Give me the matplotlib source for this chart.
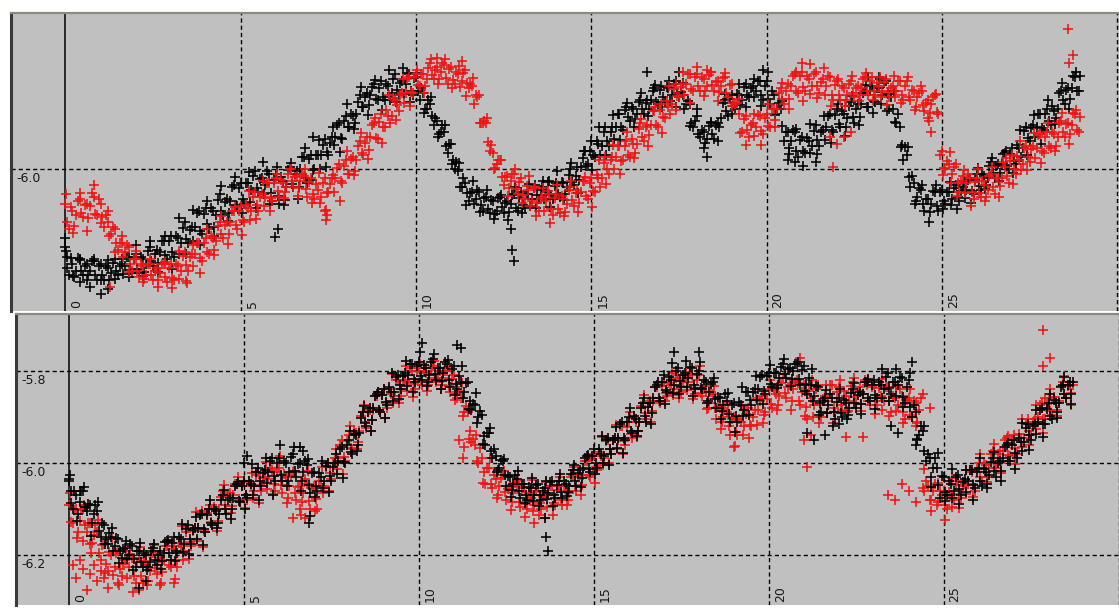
import numpy as np
import matplotlib.pyplot as plt

plt.rcParams['font.family'] = 'DejaVu Sans'

# sampling grids (days): two interleaved passes every 0.1 day, a sparser one every 0.2 day
days = np.round(np.arange(0, 29.0, 0.1), 1)
days_b = np.round(days + 0.05, 2)
days_c = np.round(np.arange(0.025, 28.9, 0.2), 3)

# ---- top panel ----
top_black = [
    -6.17, -6.23, -6.205, -6.22, -6.195, -6.23, -6.205, -6.22, -6.20, -6.24,
    -6.205, -6.24, -6.215, -6.225, -6.195, -6.23, -6.205, -6.21, -6.19, -6.225,
    -6.185, -6.225, -6.195, -6.205, -6.17, -6.21, -6.175, -6.18, -6.155, -6.195,
    -6.145, -6.19, -6.15, -6.16, -6.115, -6.16, -6.125, -6.125, -6.09, -6.14,
    -6.085, -6.13, -6.09, -6.10, -6.055, -6.10, -6.065, -6.07, -6.035, -6.08,
    -6.03, -6.075, -6.03, -6.045, -6.005, -6.05, -6.02, -6.035, -6.01, -6.07,
    -6.01, -6.075, -6.025, -6.04, -5.995, -6.04, -6.005, -6.00, -5.975, -6.03,
    -5.97, -6.0, -5.97, -5.97, -5.935, -5.97, -5.93, -5.93, -5.90, -5.935,
    -5.885, -5.91, -5.885, -5.88, -5.84, -5.865, -5.835, -5.84, -5.815, -5.85,
    -5.81, -5.85, -5.82, -5.835, -5.795, -5.84, -5.81, -5.815, -5.795, -5.84,
    -5.80, -5.85, -5.835, -5.87, -5.86, -5.905, -5.895, -5.92, -5.92, -5.965,
    -5.945, -6.0, -6.005, -6.04, -6.03, -6.07, -6.05, -6.065, -6.05, -6.09,
    -6.06, -6.095, -6.07, -6.09, -6.06, -6.095, -6.07, -6.075, -6.055, -6.09,
    -6.05, -6.085, -6.055, -6.065, -6.035, -6.065, -6.04, -6.05, -6.025, -6.065,
    -6.03, -6.06, -6.03, -6.04, -6.0, -6.035, -5.995, -5.995, -5.96, -5.99,
    -5.94, -5.975, -5.945, -5.95, -5.91, -5.95, -5.91, -5.91, -5.88, -5.915,
    -5.865, -5.895, -5.87, -5.88, -5.85, -5.88, -5.85, -5.85, -5.825, -5.86,
    -5.82, -5.855, -5.825, -5.84, -5.81, -5.845, -5.84, -5.86, -5.86, -5.91,
    -5.885, -5.93, -5.92, -5.935, -5.9, -5.935, -5.90, -5.89, -5.85, -5.885,
    -5.84, -5.87, -5.84, -5.85, -5.815, -5.845, -5.82, -5.83, -5.81, -5.85,
    -5.81, -5.86, -5.84, -5.87, -5.87, -5.94, -5.92, -5.94, -5.92, -5.975,
    -5.93, -5.965, -5.94, -5.95, -5.905, -5.95, -5.915, -5.91, -5.88, -5.92,
    -5.87, -5.91, -5.88, -5.89, -5.855, -5.90, -5.86, -5.86, -5.83, -5.865,
    -5.82, -5.855, -5.825, -5.84, -5.81, -5.87, -5.87, -5.90, -5.91, -5.98,
    -5.97, -6.04, -6.03, -6.06, -6.045, -6.09, -6.065, -6.075, -6.05, -6.09,
    -6.045, -6.075, -6.05, -6.065, -6.035, -6.07, -6.04, -6.045, -6.02, -6.055,
    -6.01, -6.045, -6.015, -6.02, -5.985, -6.02, -5.99, -5.99, -5.965, -6.0,
    -5.955, -5.99, -5.955, -5.955, -5.91, -5.94, -5.905, -5.91, -5.88, -5.915,
    -5.87, -5.905, -5.875, -5.87, -5.83, -5.86, -5.825, -5.825, -5.80, -5.83,
]
top_black_b = [
    -6.215, -6.193, -6.235, -6.192, -6.22, -6.21, -6.23, -6.20, -6.23, -6.21,
    -6.23, -6.21, -6.24, -6.203, -6.221, -6.21, -6.228, -6.19, -6.218, -6.195,
    -6.217, -6.19, -6.224, -6.177, -6.199, -6.184, -6.204, -6.155, -6.187, -6.157,
    -6.18, -6.145, -6.185, -6.128, -6.152, -6.132, -6.155, -6.096, -6.134, -6.097,
    -6.12, -6.085, -6.125, -6.068, -6.092, -6.072, -6.096, -6.038, -6.077, -6.041,
    -6.065, -6.031, -6.072, -6.016, -6.042, -6.022, -6.055, -6.004, -6.051, -6.023,
    -6.058, -6.018, -6.067, -6.002, -6.033, -6.011, -6.04, -5.973, -6.02, -5.978,
    -6.003, -5.97, -5.999, -5.947, -5.964, -5.944, -5.949, -5.905, -5.933, -5.897,
    -5.91, -5.88, -5.90, -5.855, -5.865, -5.845, -5.861, -5.822, -5.848, -5.824,
    -5.843, -5.816, -5.851, -5.805, -5.828, -5.814, -5.838, -5.793, -5.83, -5.803,
    -5.83, -5.825, -5.87, -5.85, -5.885, -5.89, -5.925, -5.905, -5.95, -5.945,
    -5.98, -5.985, -6.04, -6.019, -6.053, -6.052, -6.076, -6.045, -6.079, -6.063,
    -6.086, -6.067, -6.097, -6.063, -6.083, -6.074, -6.093, -6.057, -6.084, -6.062,
    -6.078, -6.054, -6.08, -6.041, -6.057, -6.045, -6.064, -6.028, -6.057, -6.036,
    -6.054, -6.029, -6.054, -6.014, -6.029, -6.015, -6.023, -5.976, -5.994, -5.962,
    -5.97, -5.939, -5.97, -5.92, -5.939, -5.919, -5.934, -5.88, -5.908, -5.872,
    -5.888, -5.865, -5.892, -5.854, -5.871, -5.857, -5.871, -5.83, -5.854, -5.828,
    -5.844, -5.823, -5.852, -5.816, -5.835, -5.833, -5.87, -5.852, -5.90, -5.895,
    -5.925, -5.915, -5.944, -5.907, -5.925, -5.905, -5.91, -5.857, -5.875, -5.849,
    -5.863, -5.837, -5.862, -5.823, -5.839, -5.825, -5.845, -5.81, -5.84, -5.82,
    -5.848, -5.832, -5.88, -5.856, -5.906, -5.919, -5.954, -5.916, -5.96, -5.937,
    -5.961, -5.932, -5.965, -5.917, -5.938, -5.92, -5.937, -5.885, -5.915, -5.882,
    -5.902, -5.875, -5.91, -5.864, -5.887, -5.87, -5.887, -5.835, -5.865, -5.832,
    -5.852, -5.825, -5.86, -5.814, -5.837, -5.844, -5.899, -5.88, -5.948, -5.952,
    -6.018, -6.016, -6.07, -6.041, -6.076, -6.066, -6.093, -6.048, -6.08, -6.05,
    -6.07, -6.049, -6.078, -6.042, -6.061, -6.048, -6.063, -6.023, -6.048, -6.023,
    -6.037, -6.011, -6.035, -5.994, -6.008, -5.993, -6.008, -5.968, -5.993, -5.968,
    -5.983, -5.947, -5.973, -5.918, -5.932, -5.911, -5.93, -5.88, -5.912, -5.88,
    -5.897, -5.863, -5.89, -5.836, -5.851, -5.829, -5.848, -5.798, -5.83, -5.798,
]
top_black_c = [
    -6.178, -6.232, -6.197, -6.24, -6.196, -6.24, -6.198, -6.238, -6.195, -6.233,
    -6.165, -6.232, -6.156, -6.223, -6.145, -6.216, -6.107, -6.184, -6.088, -6.164,
    -6.069, -6.146, -6.037, -6.113, -6.017, -6.095, -6.006, -6.085, -5.984, -6.075,
    -5.995, -6.077, -5.988, -6.065, -5.954, -6.023, -5.937, -5.996, -5.91, -5.963,
    -5.86, -5.913, -5.823, -5.884, -5.808, -5.873, -5.786, -5.855, -5.782, -5.855,
    -5.791, -5.879, -5.843, -5.931, -5.905, -5.99, -5.986, -6.079, -6.027, -6.093,
    -6.045, -6.108, -6.056, -6.11, -6.04, -6.096, -6.032, -6.084, -6.026, -6.082,
    -6.005, -6.068, -5.988, -6.052, -5.96, -6.003, -5.908, -5.969, -5.883, -5.938,
    -5.856, -5.908, -5.836, -5.886, -5.817, -5.865, -5.809, -5.865, -5.814, -5.906,
    -5.87, -5.955, -5.898, -5.939, -5.838, -5.881, -5.815, -5.866, -5.806, -5.864,
    -5.79, -5.883, -5.853, -5.968, -5.914, -5.993, -5.902, -5.967, -5.885, -5.944,
    -5.86, -5.929, -5.842, -5.905, -5.819, -5.878, -5.806, -5.875, -5.83, -5.953,
    -5.953, -6.075, -6.035, -6.115, -6.034, -6.086, -6.028, -6.086, -6.026, -6.074,
    -5.998, -6.044, -5.976, -6.025, -5.961, -6.008, -5.916, -5.969, -5.884, -5.945,
    -5.85, -5.903, -5.813, -5.87, -5.79,
]
top_red = [
    -6.075, -6.13, -6.09, -6.10, -6.065, -6.105, -6.075, -6.08, -6.06, -6.10,
    -6.075, -6.125, -6.115, -6.14, -6.13, -6.175, -6.16, -6.18, -6.17, -6.22,
    -6.195, -6.235, -6.21, -6.23, -6.205, -6.24, -6.215, -6.225, -6.205, -6.245,
    -6.205, -6.24, -6.21, -6.22, -6.18, -6.22, -6.185, -6.185, -6.16, -6.2,
    -6.15, -6.185, -6.15, -6.155, -6.115, -6.15, -6.115, -6.115, -6.09, -6.13,
    -6.08, -6.115, -6.085, -6.09, -6.05, -6.09, -6.055, -6.06, -6.03, -6.07,
    -6.02, -6.06, -6.03, -6.04, -6.0, -6.04, -6.015, -6.025, -6.015, -6.06,
    -6.02, -6.065, -6.045, -6.06, -6.02, -6.05, -6.02, -6.02, -5.99, -6.03,
    -5.98, -6.01, -5.975, -5.98, -5.94, -5.97, -5.93, -5.93, -5.90, -5.935,
    -5.88, -5.91, -5.885, -5.885, -5.85, -5.875, -5.835, -5.835, -5.80, -5.835,
    -5.795, -5.82, -5.795, -5.805, -5.77, -5.805, -5.78, -5.79, -5.775, -5.815,
    -5.78, -5.815, -5.795, -5.81, -5.785, -5.825, -5.82, -5.84, -5.84, -5.90,
    -5.90, -5.96, -5.965, -5.99, -5.98, -6.035, -6.015, -6.025, -6.01, -6.055,
    -6.02, -6.065, -6.045, -6.07, -6.04, -6.09, -6.06, -6.07, -6.055, -6.10,
    -6.055, -6.095, -6.065, -6.075, -6.04, -6.08, -6.045, -6.05, -6.025, -6.065,
    -6.02, -6.05, -6.02, -6.02, -5.975, -6.01, -5.975, -5.975, -5.95, -5.98,
    -5.94, -5.975, -5.945, -5.945, -5.90, -5.94, -5.905, -5.905, -5.875, -5.91,
    -5.86, -5.89, -5.865, -5.86, -5.815, -5.845, -5.815, -5.815, -5.795, -5.83,
    -5.795, -5.83, -5.805, -5.82, -5.79, -5.83, -5.81, -5.82, -5.80, -5.845,
    -5.815, -5.86, -5.88, -5.92, -5.885, -5.93, -5.90, -5.91, -5.885, -5.925,
    -5.88, -5.91, -5.87, -5.87, -5.825, -5.86, -5.815, -5.82, -5.795, -5.835,
    -5.79, -5.83, -5.805, -5.82, -5.79, -5.835, -5.805, -5.82, -5.80, -5.85,
    -5.81, -5.85, -5.825, -5.84, -5.81, -5.845, -5.82, -5.825, -5.80, -5.84,
    -5.80, -5.84, -5.82, -5.83, -5.805, -5.845, -5.82, -5.83, -5.81, -5.85,
    -5.81, -5.85, -5.83, -5.845, -5.82, -5.875, -5.85, -5.86, -5.84, -5.88,
    -5.96, -6.0, -5.99, -6.01, -5.99, -6.05, -6.015, -6.03, -6.02, -6.065,
    -6.02, -6.06, -6.035, -6.045, -6.01, -6.055, -6.02, -6.02, -5.995, -6.03,
    -5.97, -6.01, -5.98, -5.99, -5.95, -5.985, -5.95, -5.955, -5.925, -5.965,
    -5.92, -5.955, -5.925, -5.93, -5.895, -5.93, -5.90, -5.905, -5.88, -5.92,
]
top_red_b = [
    -6.115, -6.082, -6.124, -6.069, -6.096, -6.078, -6.106, -6.053, -6.097, -6.066,
    -6.105, -6.10, -6.145, -6.125, -6.16, -6.16, -6.19, -6.165, -6.205, -6.195,
    -6.222, -6.205, -6.238, -6.206, -6.229, -6.22, -6.24, -6.205, -6.235, -6.215,
    -6.236, -6.206, -6.238, -6.189, -6.209, -6.191, -6.21, -6.16, -6.192, -6.161,
    -6.179, -6.146, -6.175, -6.123, -6.14, -6.121, -6.14, -6.09, -6.122, -6.091,
    -6.11, -6.079, -6.11, -6.06, -6.079, -6.061, -6.08, -6.03, -6.062, -6.031,
    -6.048, -6.024, -6.05, -6.011, -6.027, -6.017, -6.041, -6.01, -6.044, -6.028,
    -6.055, -6.032, -6.073, -6.031, -6.052, -6.032, -6.049, -5.997, -6.027, -5.993,
    -6.01, -5.978, -6.005, -5.951, -5.966, -5.944, -5.959, -5.905, -5.933, -5.898,
    -5.908, -5.873, -5.90, -5.846, -5.861, -5.839, -5.856, -5.804, -5.834, -5.801,
    -5.818, -5.794, -5.82, -5.781, -5.797, -5.785, -5.805, -5.771, -5.802, -5.783,
    -5.807, -5.79, -5.823, -5.791, -5.814, -5.815, -5.86, -5.845, -5.90, -5.895,
    -5.942, -5.947, -5.998, -5.98, -6.017, -6.017, -6.041, -6.01, -6.044, -6.028,
    -6.056, -6.037, -6.08, -6.042, -6.073, -6.065, -6.091, -6.048, -6.087, -6.062,
    -6.087, -6.058, -6.093, -6.046, -6.068, -6.052, -6.073, -6.025, -6.058, -6.03,
    -6.048, -6.012, -6.04, -5.986, -6.001, -5.981, -6.0, -5.95, -5.982, -5.951,
    -5.969, -5.936, -5.965, -5.913, -5.93, -5.91, -5.927, -5.875, -5.905, -5.872,
    -5.888, -5.853, -5.88, -5.826, -5.841, -5.822, -5.839, -5.795, -5.826, -5.80,
    -5.82, -5.80, -5.831, -5.797, -5.818, -5.811, -5.834, -5.802, -5.835, -5.818,
    -5.858, -5.858, -5.922, -5.891, -5.916, -5.904, -5.929, -5.883, -5.918, -5.89,
    -5.907, -5.869, -5.893, -5.836, -5.849, -5.831, -5.849, -5.798, -5.83, -5.798,
    -5.823, -5.799, -5.837, -5.794, -5.82, -5.811, -5.84, -5.799, -5.84, -5.817,
    -5.84, -5.82, -5.85, -5.815, -5.835, -5.825, -5.84, -5.805, -5.832, -5.81,
    -5.831, -5.813, -5.845, -5.812, -5.834, -5.825, -5.845, -5.81, -5.84, -5.82,
    -5.843, -5.829, -5.865, -5.836, -5.862, -5.856, -5.878, -5.845, -5.877, -5.97,
    -5.998, -5.983, -6.03, -5.996, -6.031, -6.026, -6.053, -6.011, -6.05, -6.028,
    -6.053, -6.026, -6.061, -6.015, -6.038, -6.02, -6.037, -5.985, -6.015, -5.982,
    -6.0, -5.971, -6.003, -5.954, -5.974, -5.956, -5.976, -5.927, -5.96, -5.93,
    -5.95, -5.919, -5.95, -5.90, -5.919, -5.902, -5.925, -5.879, -5.915, -5.888,
]
top_red_c = [
    -6.055, -6.139, -6.052, -6.135, -6.034, -6.116, -6.09, -6.18, -6.146, -6.224,
    -6.178, -6.244, -6.194, -6.255, -6.201, -6.258, -6.178, -6.243, -6.164, -6.225,
    -6.13, -6.187, -6.101, -6.162, -6.082, -6.143, -6.048, -6.109, -6.027, -6.09,
    -6.01, -6.062, -6.0, -6.058, -6.0, -6.073, -6.009, -6.088, -6.012, -6.069,
    -5.96, -6.013, -5.923, -5.978, -5.89, -5.943, -5.84, -5.893, -5.805, -5.864,
    -5.786, -5.836, -5.762, -5.816, -5.762, -5.825, -5.777, -5.841, -5.803, -5.901,
    -5.89, -6.0, -5.981, -6.059, -6.001, -6.073, -6.015, -6.102, -6.041, -6.116,
    -6.035, -6.102, -6.026, -6.093, -6.017, -6.083, -5.98, -6.033, -5.947, -6.01,
    -5.92, -5.977, -5.891, -5.95, -5.866, -5.923, -5.82, -5.873, -5.789, -5.856,
    -5.78, -5.841, -5.789, -5.852, -5.792, -5.863, -5.848, -5.948, -5.88, -5.949,
    -5.86, -5.908, -5.813, -5.871, -5.79, -5.853, -5.772, -5.847, -5.782, -5.863,
    -5.806, -5.864, -5.798, -5.852, -5.792, -5.85, -5.80, -5.862, -5.798, -5.856,
    -5.80, -5.872, -5.83, -5.896, -5.838, -6.013, -5.963, -6.058, -6.003, -6.08,
    -6.0, -6.069, -5.995, -6.06, -5.976, -6.033, -5.94, -6.003, -5.923, -5.988,
    -5.90, -5.961, -5.879, -5.945, -5.873,
]
top_black_extra_x = [0.0, 0.05, 0.41, 0.7, 1.0, 1.2, 5.98, 6.05, 7.07, 12.7, 12.75, 12.8,
                     16.6, 17.5, 18.3, 19.9, 20.6, 20.8, 21.4, 22.9, 23.2]
top_black_extra_y = [-6.15, -6.19, -6.245, -6.255, -6.27, -6.26, -6.147, -6.13, -5.93, -6.13, -6.175, -6.20,
                     -5.79, -5.79, -5.974, -5.785, -5.98, -5.985, -5.985, -5.80, -5.80]
top_red_extra_x = [1.27, 3.47, 7.4, 7.42, 7.45, 10.6, 11.3, 18.3, 21.0, 21.8, 21.9, 22.0, 22.2,
                   22.4, 24.6, 24.7, 28.6, 28.62, 28.74]
top_red_extra_y = [-6.255, -6.247, -6.09, -6.11, -6.10, -5.76, -5.765, -5.785, -5.77, -5.93, -5.996,
                   -5.945, -5.93, -5.92, -5.89, -5.92, -5.697, -5.77, -5.753]

# ---- bottom panel ----
bot_black = [
    -6.04, -6.10, -6.07, -6.085, -6.06, -6.105, -6.09, -6.11, -6.105, -6.16,
    -6.135, -6.175, -6.16, -6.18, -6.165, -6.205, -6.185, -6.2, -6.18, -6.225,
    -6.19, -6.225, -6.20, -6.215, -6.185, -6.22, -6.19, -6.195, -6.17, -6.21,
    -6.16, -6.195, -6.165, -6.175, -6.135, -6.175, -6.14, -6.14, -6.11, -6.15,
    -6.10, -6.135, -6.105, -6.11, -6.07, -6.11, -6.075, -6.075, -6.045, -6.085,
    -6.04, -6.075, -6.045, -6.05, -6.01, -6.05, -6.015, -6.02, -5.99, -6.04,
    -5.99, -6.04, -6.0, -6.02, -5.98, -6.03, -6.0, -6.02, -6.005, -6.065,
    -6.02, -6.06, -6.03, -6.04, -6.0, -6.04, -6.0, -5.995, -5.965, -6.0,
    -5.95, -5.98, -5.94, -5.935, -5.89, -5.92, -5.88, -5.88, -5.85, -5.89,
    -5.84, -5.875, -5.845, -5.845, -5.81, -5.84, -5.805, -5.81, -5.785, -5.825,
    -5.78, -5.82, -5.795, -5.81, -5.775, -5.82, -5.795, -5.805, -5.785, -5.835,
    -5.79, -5.84, -5.825, -5.845, -5.825, -5.885, -5.875, -5.90, -5.895, -5.96,
    -5.935, -5.99, -5.985, -6.01, -5.995, -6.05, -6.03, -6.045, -6.035, -6.075,
    -6.045, -6.08, -6.055, -6.07, -6.045, -6.08, -6.055, -6.065, -6.04, -6.075,
    -6.04, -6.075, -6.045, -6.05, -6.015, -6.05, -6.015, -6.01, -5.985, -6.02,
    -5.97, -6.01, -5.98, -5.985, -5.945, -5.98, -5.945, -5.945, -5.91, -5.95,
    -5.90, -5.935, -5.905, -5.91, -5.87, -5.91, -5.87, -5.86, -5.83, -5.865,
    -5.81, -5.845, -5.82, -5.83, -5.795, -5.835, -5.805, -5.815, -5.795, -5.84,
    -5.80, -5.84, -5.825, -5.845, -5.825, -5.88, -5.86, -5.875, -5.865, -5.91,
    -5.87, -5.91, -5.875, -5.885, -5.845, -5.875, -5.84, -5.84, -5.81, -5.85,
    -5.805, -5.835, -5.805, -5.815, -5.785, -5.815, -5.795, -5.80, -5.785, -5.83,
    -5.79, -5.85, -5.83, -5.855, -5.835, -5.89, -5.86, -5.875, -5.86, -5.905,
    -5.86, -5.90, -5.87, -5.88, -5.84, -5.88, -5.845, -5.85, -5.825, -5.865,
    -5.82, -5.86, -5.83, -5.84, -5.805, -5.85, -5.825, -5.83, -5.815, -5.87,
    -5.82, -5.90, -5.89, -5.94, -5.93, -5.995, -5.99, -6.01, -6.01, -6.075,
    -6.03, -6.07, -6.045, -6.06, -6.025, -6.07, -6.035, -6.04, -6.015, -6.055,
    -6.01, -6.05, -6.02, -6.025, -5.99, -6.03, -5.995, -5.99, -5.96, -5.995,
    -5.95, -5.99, -5.955, -5.955, -5.915, -5.95, -5.915, -5.91, -5.88, -5.915,
    -5.87, -5.905, -5.87, -5.87, -5.83, -5.86, -5.825, -5.825,
]
bot_black_b = [
    -6.087, -6.061, -6.11, -6.061, -6.095, -6.089, -6.131, -6.09, -6.147, -6.129,
    -6.164, -6.152, -6.19, -6.163, -6.191, -6.187, -6.209, -6.176, -6.208, -6.19,
    -6.215, -6.195, -6.225, -6.19, -6.21, -6.2, -6.213, -6.172, -6.196, -6.173,
    -6.191, -6.161, -6.193, -6.144, -6.164, -6.146, -6.164, -6.113, -6.144, -6.112,
    -6.13, -6.099, -6.13, -6.08, -6.099, -6.081, -6.1, -6.05, -6.082, -6.05,
    -6.07, -6.039, -6.07, -6.02, -6.039, -6.022, -6.043, -5.995, -6.028, -6.0,
    -6.025, -5.995, -6.04, -5.988, -6.018, -6.003, -6.038, -5.995, -6.048, -6.022,
    -6.05, -6.022, -6.055, -6.007, -6.028, -6.009, -6.024, -5.97, -5.998, -5.962,
    -5.976, -5.937, -5.96, -5.902, -5.913, -5.89, -5.907, -5.855, -5.885, -5.852,
    -5.868, -5.836, -5.865, -5.813, -5.83, -5.812, -5.833, -5.785, -5.818, -5.79,
    -5.812, -5.788, -5.825, -5.781, -5.806, -5.795, -5.822, -5.78, -5.82, -5.797,
    -5.828, -5.812, -5.86, -5.826, -5.865, -5.871, -5.914, -5.887, -5.941, -5.934,
    -5.973, -5.97, -6.016, -5.994, -6.026, -6.029, -6.058, -6.027, -6.061, -6.045,
    -6.07, -6.051, -6.082, -6.048, -6.069, -6.06, -6.078, -6.041, -6.069, -6.047,
    -6.063, -6.038, -6.063, -6.023, -6.038, -6.021, -6.033, -5.99, -6.012, -5.984,
    -6.0, -5.969, -6.0, -5.95, -5.969, -5.95, -5.967, -5.915, -5.945, -5.912,
    -5.93, -5.899, -5.93, -5.88, -5.899, -5.878, -5.891, -5.835, -5.86, -5.824,
    -5.842, -5.814, -5.848, -5.801, -5.823, -5.809, -5.835, -5.792, -5.83, -5.807,
    -5.837, -5.82, -5.865, -5.829, -5.862, -5.857, -5.888, -5.85, -5.894, -5.875,
    -5.899, -5.867, -5.897, -5.846, -5.864, -5.846, -5.864, -5.813, -5.844, -5.812,
    -5.828, -5.804, -5.83, -5.791, -5.807, -5.796, -5.818, -5.785, -5.817, -5.799,
    -5.829, -5.816, -5.865, -5.833, -5.87, -5.865, -5.892, -5.85, -5.89, -5.867,
    -5.892, -5.863, -5.896, -5.848, -5.869, -5.852, -5.873, -5.825, -5.858, -5.83,
    -5.852, -5.825, -5.86, -5.814, -5.837, -5.825, -5.854, -5.814, -5.856, -5.835,
    -5.878, -5.875, -5.947, -5.92, -5.973, -5.98, -6.03, -5.99, -6.047, -6.029,
    -6.063, -6.038, -6.075, -6.031, -6.056, -6.042, -6.063, -6.015, -6.048, -6.019,
    -6.04, -6.012, -6.045, -5.997, -6.018, -6.0, -6.017, -5.965, -5.995, -5.962,
    -5.978, -5.946, -5.975, -5.923, -5.94, -5.92, -5.937, -5.885, -5.915, -5.882,
    -5.897, -5.863, -5.89, -5.836, -5.851, -5.831, -5.85,
]
bot_black_c = [
    -6.025, -6.125, -6.052, -6.159, -6.084, -6.176, -6.14, -6.216, -6.17, -6.232,
    -6.173, -6.231, -6.175, -6.23, -6.166, -6.213, -6.133, -6.198, -6.118, -6.177,
    -6.08, -6.141, -6.059, -6.122, -6.042, -6.099, -6.003, -6.081, -5.99, -6.069,
    -5.962, -6.049, -5.965, -6.061, -5.992, -6.073, -5.995, -6.062, -5.98, -6.033,
    -5.93, -5.975, -5.877, -5.93, -5.846, -5.903, -5.804, -5.861, -5.779, -5.846,
    -5.76, -5.833, -5.763, -5.84, -5.776, -5.853, -5.79, -5.883, -5.848, -5.958,
    -5.925, -6.02, -5.991, -6.074, -6.018, -6.086, -6.032, -6.094, -6.04, -6.094,
    -6.023, -6.071, -6.005, -6.052, -5.982, -6.023, -5.941, -6.004, -5.922, -5.979,
    -5.88, -5.941, -5.859, -5.916, -5.824, -5.873, -5.784, -5.851, -5.778, -5.855,
    -5.78, -5.869, -5.815, -5.904, -5.848, -5.933, -5.836, -5.895, -5.811, -5.872,
    -5.788, -5.838, -5.774, -5.832, -5.782, -5.843, -5.797, -5.896, -5.842, -5.919,
    -5.84, -5.905, -5.827, -5.894, -5.818, -5.883, -5.796, -5.865, -5.796, -5.879,
    -5.805, -5.95, -5.919, -6.051, -5.978, -6.083, -6.013, -6.088, -6.016, -6.081,
    -5.99, -6.055, -5.977, -6.04, -5.956, -6.013, -5.914, -5.971, -5.885, -5.944,
    -5.85, -5.903, -5.813, -5.872,
]
bot_red = [
    -6.09, -6.13, -6.10, -6.125, -6.10, -6.15, -6.13, -6.155, -6.15, -6.21,
    -6.175, -6.235, -6.20, -6.225, -6.19, -6.245, -6.21, -6.225, -6.205, -6.26,
    -6.205, -6.26, -6.22, -6.235, -6.195, -6.24, -6.205, -6.21, -6.18, -6.225,
    -6.18, -6.225, -6.18, -6.19, -6.14, -6.18, -6.14, -6.14, -6.105, -6.15,
    -6.10, -6.135, -6.10, -6.10, -6.06, -6.10, -6.065, -6.07, -6.045, -6.085,
    -6.04, -6.08, -6.05, -6.06, -6.02, -6.06, -6.03, -6.035, -6.015, -6.06,
    -6.01, -6.065, -6.03, -6.05, -6.02, -6.08, -6.05, -6.065, -6.045, -6.10,
    -6.05, -6.10, -6.05, -6.05, -6.0, -6.035, -5.99, -5.99, -5.95, -5.995,
    -5.94, -5.97, -5.935, -5.93, -5.89, -5.925, -5.885, -5.885, -5.855, -5.89,
    -5.84, -5.88, -5.85, -5.855, -5.82, -5.855, -5.82, -5.825, -5.80, -5.84,
    -5.795, -5.83, -5.805, -5.82, -5.79, -5.825, -5.80, -5.815, -5.80, -5.845,
    -5.81, -5.86, -5.86, -5.89, -5.89, -5.955, -5.96, -6.0, -5.99, -6.045,
    -6.01, -6.055, -6.035, -6.05, -6.025, -6.08, -6.05, -6.065, -6.05, -6.095,
    -6.055, -6.10, -6.075, -6.09, -6.055, -6.10, -6.065, -6.07, -6.05, -6.09,
    -6.05, -6.09, -6.06, -6.065, -6.025, -6.06, -6.025, -6.025, -5.995, -6.03,
    -5.98, -6.015, -5.985, -5.99, -5.95, -5.98, -5.945, -5.95, -5.92, -5.96,
    -5.91, -5.945, -5.91, -5.91, -5.87, -5.905, -5.865, -5.865, -5.835, -5.87,
    -5.825, -5.855, -5.83, -5.84, -5.81, -5.845, -5.815, -5.825, -5.81, -5.85,
    -5.81, -5.855, -5.845, -5.87, -5.85, -5.905, -5.88, -5.90, -5.89, -5.94,
    -5.90, -5.94, -5.91, -5.92, -5.88, -5.92, -5.885, -5.885, -5.855, -5.89,
    -5.84, -5.88, -5.85, -5.855, -5.815, -5.86, -5.83, -5.84, -5.82, -5.875,
    -5.83, -5.905, -5.86, -5.875, -5.83, -5.90, -5.855, -5.865, -5.83, -5.89,
    -5.835, -5.885, -5.855, -5.865, -5.825, -5.87, -5.835, -5.85, -5.83, -5.875,
    -5.83, -5.875, -5.855, -5.865, -5.835, -5.89, -5.86, -5.875, -5.855, -5.905,
    -5.86, -5.90, -5.87, -5.885, -5.85, -6.04, -6.08, -6.06, -6.09, -6.06,
    -6.06, -6.10, -6.07, -6.08, -6.04, -6.075, -6.045, -6.045, -6.02, -6.06,
    -6.0, -6.04, -6.005, -6.01, -5.975, -6.01, -5.975, -5.975, -5.945, -5.985,
    -5.94, -5.98, -5.945, -5.945, -5.905, -5.94, -5.905, -5.90, -5.87, -5.905,
    -5.86, -5.895, -5.865, -5.865, -5.825, -5.86, -5.83, -5.83,
]
bot_red_b = [
    -6.127, -6.101, -6.15, -6.101, -6.135, -6.13, -6.173, -6.135, -6.194, -6.178,
    -6.218, -6.193, -6.243, -6.196, -6.23, -6.218, -6.25, -6.198, -6.244, -6.215,
    -6.244, -6.212, -6.255, -6.2, -6.228, -6.21, -6.236, -6.18, -6.221, -6.187,
    -6.211, -6.173, -6.21, -6.15, -6.172, -6.148, -6.17, -6.11, -6.147, -6.109,
    -6.128, -6.095, -6.125, -6.073, -6.09, -6.072, -6.093, -6.045, -6.078, -6.05,
    -6.07, -6.042, -6.075, -6.027, -6.048, -6.033, -6.056, -6.01, -6.045, -6.019,
    -6.048, -6.024, -6.075, -6.028, -6.065, -6.053, -6.085, -6.035, -6.082, -6.054,
    -6.077, -6.04, -6.065, -6.009, -6.022, -5.999, -6.014, -5.96, -5.988, -5.953,
    -5.967, -5.93, -5.955, -5.899, -5.912, -5.89, -5.907, -5.855, -5.885, -5.852,
    -5.87, -5.839, -5.87, -5.82, -5.839, -5.822, -5.843, -5.795, -5.828, -5.80,
    -5.82, -5.80, -5.83, -5.795, -5.815, -5.807, -5.831, -5.80, -5.834, -5.818,
    -5.85, -5.843, -5.897, -5.876, -5.931, -5.949, -5.996, -5.967, -6.02, -6.01,
    -6.046, -6.027, -6.07, -6.032, -6.063, -6.056, -6.084, -6.043, -6.084, -6.061,
    -6.089, -6.065, -6.103, -6.06, -6.086, -6.073, -6.096, -6.05, -6.086, -6.058,
    -6.08, -6.049, -6.08, -6.03, -6.049, -6.03, -6.047, -5.995, -6.025, -5.992,
    -6.009, -5.976, -6.005, -5.953, -5.97, -5.951, -5.97, -5.92, -5.952, -5.921,
    -5.938, -5.903, -5.93, -5.876, -5.891, -5.87, -5.887, -5.835, -5.865, -5.832,
    -5.849, -5.826, -5.853, -5.815, -5.832, -5.82, -5.841, -5.807, -5.838, -5.819,
    -5.848, -5.833, -5.88, -5.846, -5.881, -5.878, -5.911, -5.875, -5.92, -5.904,
    -5.932, -5.905, -5.94, -5.894, -5.917, -5.901, -5.918, -5.866, -5.895, -5.862,
    -5.871, -5.842, -5.875, -5.827, -5.848, -5.836, -5.865, -5.825, -5.866, -5.846,
    -5.878, -5.843, -5.90, -5.84, -5.874, -5.861, -5.891, -5.83, -5.88, -5.845,
    -5.875, -5.844, -5.888, -5.833, -5.857, -5.843, -5.873, -5.82, -5.865, -5.835,
    -5.866, -5.838, -5.885, -5.835, -5.866, -5.855, -5.888, -5.84, -5.889, -5.863,
    -5.895, -5.865, -5.91, -5.86, -6.06, -6.05, -6.08, -6.045, -6.085, -6.07,
    -6.09, -6.062, -6.095, -6.047, -6.068, -6.05, -6.067, -6.015, -6.045, -6.012,
    -6.03, -5.999, -6.03, -5.98, -5.999, -5.981, -6.0, -5.95, -5.982, -5.951,
    -5.968, -5.936, -5.965, -5.913, -5.93, -5.91, -5.927, -5.875, -5.905, -5.872,
    -5.888, -5.856, -5.885, -5.833, -5.85, -5.832, -5.848,
]
bot_red_c = [
    -6.065, -6.163, -6.09, -6.195, -6.124, -6.239, -6.165, -6.265, -6.19, -6.279,
    -6.182, -6.265, -6.177, -6.261, -6.172, -6.251, -6.136, -6.207, -6.107, -6.181,
    -6.09, -6.147, -6.048, -6.109, -6.031, -6.098, -6.022, -6.087, -5.998, -6.067,
    -5.985, -6.087, -6.018, -6.113, -6.018, -6.103, -6.009, -6.06, -5.97, -6.023,
    -5.92, -5.969, -5.875, -5.93, -5.846, -5.903, -5.808, -5.869, -5.789, -5.856,
    -5.786, -5.844, -5.778, -5.84, -5.792, -5.863, -5.826, -5.948, -5.94, -6.043,
    -5.99, -6.075, -6.017, -6.101, -6.039, -6.118, -6.037, -6.112, -6.041, -6.112,
    -6.03, -6.091, -6.009, -6.07, -5.986, -6.043, -5.944, -6.001, -5.917, -5.98,
    -5.89, -5.943, -5.853, -5.91, -5.826, -5.866, -5.804, -5.858, -5.802, -5.862,
    -5.79, -5.883, -5.833, -5.926, -5.874, -5.963, -5.876, -5.945, -5.859, -5.914,
    -5.82, -5.885, -5.807, -5.886, -5.826, -5.899, -5.819, -5.913, -5.83, -5.913,
    -5.82, -5.889, -5.815, -5.888, -5.82, -5.893, -5.818, -5.899, -5.835, -5.914,
    -5.84, -5.913, -6.013, -6.104, -6.044, -6.123, -6.032, -6.097, -6.015, -6.074,
    -5.98, -6.041, -5.959, -6.022, -5.942, -6.003, -5.904, -5.961, -5.875, -5.934,
    -5.84, -5.897, -5.811, -5.874,
]
bot_black_extra_x = [0.0, 0.05, 0.3, 2.0, 2.2, 5.0, 5.1, 6.6, 6.7, 6.87, 6.9, 10.1, 11.1, 11.2,
                     13.6, 13.62, 13.7, 17.3, 18.0, 21.1, 21.3, 21.6, 22.0, 23.5, 23.7, 24.1, 24.2]
bot_black_extra_y = [-6.035, -6.06, -6.06, -6.27, -6.255, -6.0, -5.985, -5.965, -5.975, -6.13, -6.115,
                     -5.74, -5.745, -5.75, -6.12, -6.16, -6.19, -5.76, -5.76, -5.935, -5.95, -5.94,
                     -5.915, -5.92, -5.935, -5.78, -5.96]
bot_red_extra_x = [0.1, 0.2, 0.3, 0.4, 0.5, 0.6, 0.7, 0.8, 0.9, 1.0, 1.1, 1.4, 2.0, 2.6, 3.0,
                   0.4, 0.6, 6.4, 6.6, 6.75, 11.15, 11.25, 11.3, 13.3, 13.6, 19.0, 20.9, 21.0,
                   21.1, 21.2, 22.2, 22.7, 23.4, 23.6, 23.8, 24.0, 24.2, 24.4, 24.2, 24.6,
                   27.8, 27.84, 27.84, 27.9, 28.04]
bot_red_extra_y = [-6.22, -6.25, -6.21, -6.23, -6.275, -6.24, -6.22, -6.255, -6.235, -6.25, -6.27,
                   -6.26, -6.275, -6.265, -6.26, -6.17, -6.175, -6.12, -6.10, -6.12, -5.95,
                   -5.99, -5.965, -6.13, -6.12, -5.965, -5.773, -5.95, -6.008, -5.94, -5.944,
                   -5.944, -6.07, -6.08, -6.045, -6.06, -6.085, -6.055, -5.92, -5.88,
                   -5.88, -5.712, -5.79, -5.86, -5.773]

top_yticks = [-6.0]
bot_yticks = [-5.8, -6.0, -6.2]
x_labels = [0, 5, 10, 15, 20, 25]
x_grid = [5, 10, 15, 20, 25, 30]

W, H = 1119, 608
fig = plt.figure(figsize=(W / 100, H / 100), dpi=100)
fig.patch.set_facecolor('white')

ax1 = fig.add_axes([11 / W, 1 - 311 / H, (W - 11) / W, 298 / H])
ax2 = fig.add_axes([16 / W, 1 - 605 / H, (W - 16) / W, 291 / H])

RED = '#f01414'
mk = dict(ls='none', marker='+', ms=7.2, mew=1.15)


def setup(ax, xlim, ylim, yticks):
    ax.set_facecolor('#c0c0c0')
    ax.set_xlim(*xlim)
    ax.set_ylim(*ylim)
    ax.set_xticks(x_grid)
    ax.set_yticks(yticks)
    ax.tick_params(length=0, labelbottom=False, labelleft=False)
    ax.grid(True, color='black', lw=1.0, ls=(0, (3, 2.2)))
    ax.set_axisbelow(True)
    ax.axvline(0, color='black', lw=1.1, zorder=1)
    for s in ['right', 'bottom']:
        ax.spines[s].set_visible(False)
    ax.spines['left'].set_color('#3a3a3a')
    ax.spines['left'].set_linewidth(2.2)
    ax.spines['top'].set_color('#8a8a80')
    ax.spines['top'].set_linewidth(1.6)
    for v in yticks:
        ax.annotate(f'{v:.1f}', xy=(0, v), xycoords=('axes fraction', 'data'),
                    xytext=(4, -2), textcoords='offset points',
                    ha='left', va='top', fontsize=9, color='#181818')
    for v in x_labels:
        ax.annotate(str(v), xy=(v, 0), xycoords=('data', 'axes fraction'),
                    xytext=(3.5, 2), textcoords='offset points', rotation=90,
                    ha='left', va='bottom', fontsize=9, color='#181818')


setup(ax1, (-1.554, 30.05), (-6.3077, -5.662), top_yticks)
setup(ax2, (-1.516, 30.01), (-6.3077, -5.677), bot_yticks)

for x, y in [(days, top_black), (days_b, top_black_b), (days_c, top_black_c),
             (top_black_extra_x, top_black_extra_y)]:
    ax1.plot(x[:len(y)], y, color='black', **mk)
for x, y in [(days, top_red), (days_b, top_red_b), (days_c, top_red_c),
             (top_red_extra_x, top_red_extra_y)]:
    ax1.plot(x[:len(y)], y, color=RED, **mk)

for x, y in [(days, bot_red), (days_b, bot_red_b), (days_c, bot_red_c),
             (bot_red_extra_x, bot_red_extra_y)]:
    ax2.plot(x[:len(y)], y, color=RED, **mk)
for x, y in [(days, bot_black), (days_b, bot_black_b), (days_c, bot_black_c),
             (bot_black_extra_x, bot_black_extra_y)]:
    ax2.plot(x[:len(y)], y, color='black', **mk)

fig.savefig('out.png', dpi=100)
